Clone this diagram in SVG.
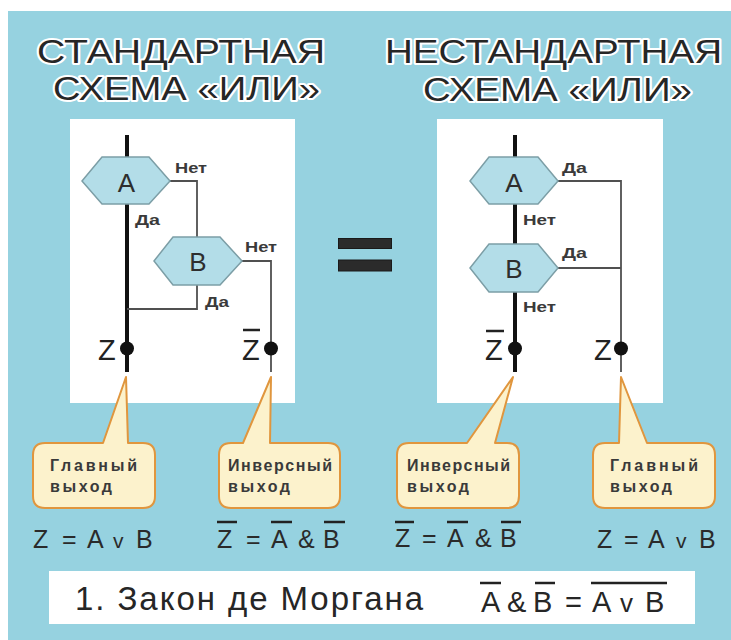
<svg xmlns="http://www.w3.org/2000/svg" width="731" height="640" viewBox="0 0 731 640">
<style>
.title{font-family:"Liberation Sans",Arial,sans-serif;font-size:33px;fill:#262626;stroke:#ffffff;stroke-width:4px;stroke-linejoin:round;paint-order:stroke fill}
.panel{fill:#ffffff}
.hex{fill:#b3dde8;stroke:#7c9ea6;stroke-width:1.5}
.hexlbl{font-family:"Liberation Sans",Arial,sans-serif;font-size:26px;fill:#2e2e2e;text-anchor:middle}
.lbl{font-family:"Liberation Sans",Arial,sans-serif;font-size:14px;font-weight:bold;fill:#3a3a3a}
.zl{font-family:"Liberation Sans",Arial,sans-serif;font-size:29px;fill:#222}
.thick{stroke:#111;stroke-width:4;fill:none}
.thin{stroke:#505050;stroke-width:1.8;fill:none}
.dot{fill:#111}
.bar{stroke:#222;stroke-width:2.5}
.callout{fill:#fcf2cc;stroke:#e0963e;stroke-width:2;stroke-linejoin:round}
.ctext{font-family:"Liberation Sans",Arial,sans-serif;font-size:16px;font-weight:bold;fill:#3a3a3a}
.f{font-family:"Liberation Sans",Arial,sans-serif;font-size:25px;fill:#2a2a2a}
.fv{font-size:21px}
.law{font-family:"Liberation Sans",Arial,sans-serif;font-size:33px;fill:#262626}
.lawf{font-family:"Liberation Sans",Arial,sans-serif;font-size:29px;fill:#262626}
.lawv{font-size:26px}
.eq{fill:#2b2b2b;stroke:#1a1a1a;stroke-width:1}
</style>
<rect x="0" y="0" width="731" height="640" fill="#ffffff"/>
<rect x="8" y="11" width="723" height="629" fill="#96d2e0"/>

<g id="title-left">
<text class="title" x="37" y="63" textLength="288" lengthAdjust="spacingAndGlyphs">СТАНДАРТНАЯ</text>
<text class="title" x="53" y="100" textLength="267" lengthAdjust="spacingAndGlyphs">СХЕМА «ИЛИ»</text>
</g>
<g id="title-right">
<text class="title" x="385" y="63" textLength="337" lengthAdjust="spacingAndGlyphs">НЕСТАНДАРТНАЯ</text>
<text class="title" x="423" y="101" textLength="269" lengthAdjust="spacingAndGlyphs">СХЕМА «ИЛИ»</text>
</g>

<g id="panel-left"><rect class="panel" x="70" y="119" width="225" height="284"/></g>
<g id="panel-right"><rect class="panel" x="437" y="119" width="226" height="284"/></g>

<g id="connectors">
<line class="thick" x1="127" y1="135" x2="127" y2="372"/>
<polyline class="thin" points="170,181 197,181 197,237"/>
<polyline class="thin" points="242,261 271,261 271,372"/>
<polyline class="thin" points="197,285 197,309 127,309"/>
<line class="thick" x1="515" y1="135" x2="515" y2="372"/>
<polyline class="thin" points="558,181 621,181 621,372"/>
<line class="thin" x1="558" y1="268" x2="621" y2="268"/>
</g>

<g id="left-A">
<polygon class="hex" points="82,181 102,157 149,157 170,181 149,204 102,204"/>
<text class="hexlbl" x="126.5" y="192">A</text>
</g>
<g id="left-B">
<polygon class="hex" points="154,261 173,237 220,237 242,261 220,285 173,285"/>
<text class="hexlbl" x="198" y="271">B</text>
</g>
<g id="left-labels">
<text class="lbl" x="175" y="173" textLength="32" lengthAdjust="spacingAndGlyphs">Нет</text>
<text class="lbl" x="135" y="225" textLength="25" lengthAdjust="spacingAndGlyphs">Да</text>
<text class="lbl" x="245" y="252" textLength="32" lengthAdjust="spacingAndGlyphs">Нет</text>
<text class="lbl" x="205" y="307" textLength="24" lengthAdjust="spacingAndGlyphs">Да</text>
</g>
<g id="left-Z">
<text class="zl" x="98" y="360">Z</text>
<circle class="dot" cx="127" cy="348.5" r="7"/>
</g>
<g id="left-Zbar">
<text class="zl" x="242" y="360">Z</text>
<line class="bar" x1="243" y1="330" x2="260" y2="330"/>
<circle class="dot" cx="271" cy="348.5" r="7"/>
</g>

<g id="right-A">
<polygon class="hex" points="470,181 489,157 538,157 558,181 538,204 489,204"/>
<text class="hexlbl" x="514" y="192">A</text>
</g>
<g id="right-B">
<polygon class="hex" points="470,268 489,244 538,244 558,268 538,292 489,292"/>
<text class="hexlbl" x="514" y="278">B</text>
</g>
<g id="right-labels">
<text class="lbl" x="562" y="173" textLength="25" lengthAdjust="spacingAndGlyphs">Да</text>
<text class="lbl" x="523" y="225" textLength="33" lengthAdjust="spacingAndGlyphs">Нет</text>
<text class="lbl" x="562" y="258" textLength="25" lengthAdjust="spacingAndGlyphs">Да</text>
<text class="lbl" x="523" y="312" textLength="33" lengthAdjust="spacingAndGlyphs">Нет</text>
</g>
<g id="right-Zbar">
<text class="zl" x="485" y="360">Z</text>
<line class="bar" x1="486" y1="331" x2="504" y2="331"/>
<circle class="dot" cx="515" cy="348.5" r="7"/>
</g>
<g id="right-Z">
<text class="zl" x="594" y="360">Z</text>
<circle class="dot" cx="621" cy="348.5" r="7"/>
</g>

<g id="equals">
<rect class="eq" x="338.5" y="238.5" width="53" height="10"/>
<rect class="eq" x="338.5" y="260" width="53" height="11"/>
</g>

<g id="callout-left-main">
<path class="callout" d="M45,443 H103 L126,377 L128,443 H143 Q155,443 155,455 V496 Q155,508 143,508 H45 Q33,508 33,496 V455 Q33,443 45,443 Z"/>
<text class="ctext" x="50" y="471" textLength="87" lengthAdjust="spacing">Главный</text>
<text class="ctext" x="50" y="492" textLength="62" lengthAdjust="spacing">выход</text>
</g>
<g id="callout-left-inv">
<path class="callout" d="M231,443 H243 L271,377 L270,443 H328 Q340,443 340,455 V496 Q340,508 328,508 H231 Q219,508 219,496 V455 Q219,443 231,443 Z"/>
<text class="ctext" x="228" y="471" textLength="104" lengthAdjust="spacing">Инверсный</text>
<text class="ctext" x="228" y="492" textLength="62" lengthAdjust="spacing">выход</text>
</g>
<g id="callout-right-inv">
<path class="callout" d="M409,443 H467 L513,377 L495,443 H507 Q519,443 519,455 V496 Q519,508 507,508 H409 Q397,508 397,496 V455 Q397,443 409,443 Z"/>
<text class="ctext" x="407" y="471" textLength="103" lengthAdjust="spacing">Инверсный</text>
<text class="ctext" x="407" y="492" textLength="62" lengthAdjust="spacing">выход</text>
</g>
<g id="callout-right-main">
<path class="callout" d="M605,443 H619 L621,377 L647,443 H703 Q715,443 715,455 V496 Q715,508 703,508 H605 Q593,508 593,496 V455 Q593,443 605,443 Z"/>
<text class="ctext" x="610" y="471" textLength="88" lengthAdjust="spacing">Главный</text>
<text class="ctext" x="610" y="492" textLength="62" lengthAdjust="spacing">выход</text>
</g>

<g id="formula-left-main">
<text class="f" y="548"><tspan x="33">Z</tspan> <tspan x="62">=</tspan> <tspan x="87">A</tspan> <tspan x="113" class="fv">v</tspan> <tspan x="136">B</tspan></text>
</g>
<g id="formula-left-inv">
<text class="f" y="548"><tspan x="217">Z</tspan> <tspan x="246">=</tspan> <tspan x="271">A</tspan> <tspan x="298">&amp;</tspan> <tspan x="323">B</tspan></text>
<line class="bar" x1="217" y1="522" x2="237" y2="522"/>
<line class="bar" x1="271" y1="522" x2="292" y2="522"/>
<line class="bar" x1="324" y1="522" x2="345" y2="522"/>
</g>
<g id="formula-right-inv">
<text class="f" y="547"><tspan x="395">Z</tspan> <tspan x="422">=</tspan> <tspan x="447">A</tspan> <tspan x="475">&amp;</tspan> <tspan x="500">B</tspan></text>
<line class="bar" x1="395" y1="522" x2="414" y2="522"/>
<line class="bar" x1="447" y1="522" x2="468" y2="522"/>
<line class="bar" x1="501" y1="522" x2="521" y2="522"/>
</g>
<g id="formula-right-main">
<text class="f" y="548"><tspan x="597">Z</tspan> <tspan x="624">=</tspan> <tspan x="648">A</tspan> <tspan x="676" class="fv">v</tspan> <tspan x="699">B</tspan></text>
</g>

<g id="law">
<rect x="49" y="571" width="646" height="53" fill="#ffffff"/>
<text class="law" x="75" y="610" textLength="348" lengthAdjust="spacing">1. Закон де Моргана</text>
<text class="lawf" y="612"><tspan x="481">A</tspan> <tspan x="507">&amp;</tspan> <tspan x="533">B</tspan> <tspan x="565">=</tspan> <tspan x="592">A</tspan> <tspan x="620" class="lawv">v</tspan> <tspan x="645">B</tspan></text>
<line class="bar" x1="480" y1="583" x2="501" y2="583"/>
<line class="bar" x1="535" y1="583" x2="555" y2="583"/>
<line class="bar" x1="591" y1="583" x2="667" y2="583"/>
</g>
</svg>
